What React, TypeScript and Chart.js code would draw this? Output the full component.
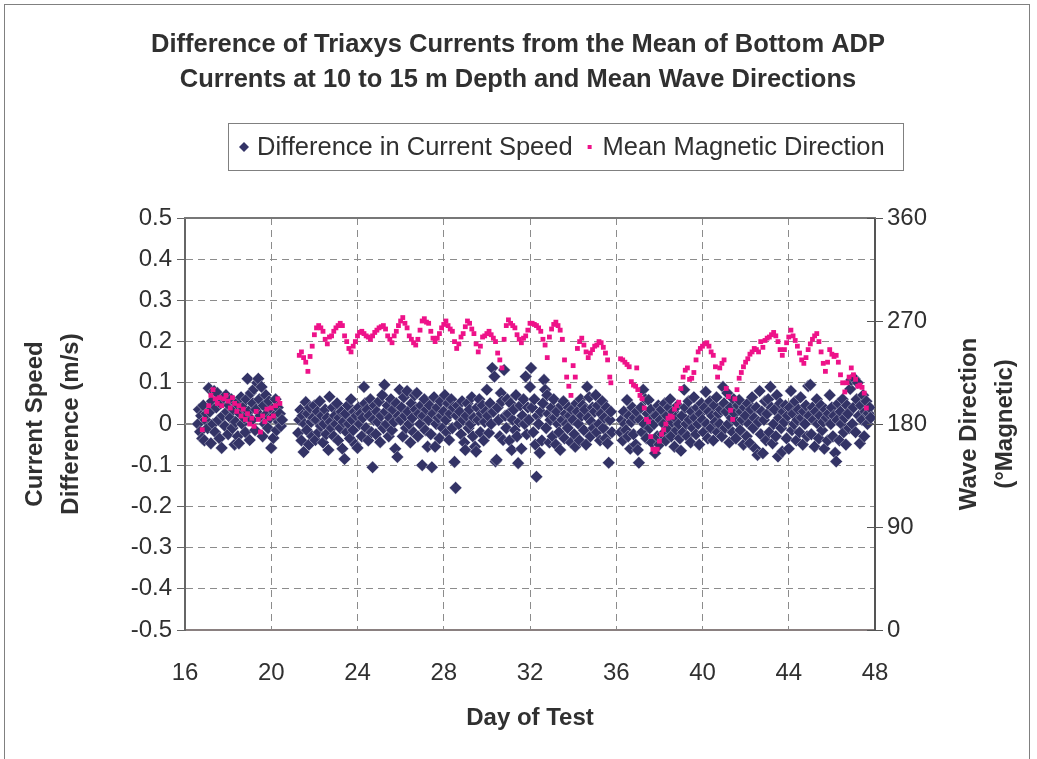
import React, { useEffect, useRef } from "react";
import { Chart, registerables } from "chart.js";

Chart.register(...registerables);

const FONT = "'Liberation Sans', Arial, Helvetica, sans-serif";
const TEXT = "#303030";
const NAVY = "#333366";
const PINK = "#EE1289";

const titleLines = [
  "Difference of Triaxys Currents from the Mean of Bottom ADP",
  "Currents at 10 to 15 m Depth and Mean Wave Directions",
];
const seriesNames = ["Difference in Current Speed", "Mean Magnetic Direction"];
const xTitle = "Day of Test";
const yTitleLeft = ["Current Speed", "Difference (m/s)"];
const yTitleRight = ["Wave Direction", "(°Magnetic)"];

// Day of test for each current-speed difference sample
const speedDays = [
  16.6,16.65,16.7,16.75,16.8,16.85,16.9,16.95,
  17,17.05,17.1,17.15,17.2,17.25,17.3,17.35,17.4,17.45,17.5,17.55,17.6,17.65,17.7,17.75,17.8,17.85,17.9,17.95,
  18,18.05,18.1,18.15,18.2,18.25,18.3,18.35,18.4,18.45,18.5,18.55,18.6,18.65,18.7,18.75,18.8,18.85,18.9,18.95,
  19,19.05,19.1,19.15,19.2,19.25,19.3,19.35,19.4,19.45,19.5,19.55,19.6,19.65,19.7,19.75,19.8,19.85,19.9,19.95,
  20,20.05,20.1,20.15,20.2,20.25,20.3,20.35,20.4,20.45,20.5,
  21.25,21.3,21.35,21.4,21.45,21.5,21.55,21.6,21.65,21.7,21.75,21.8,21.85,21.9,21.95,
  22,22.05,22.1,22.15,22.2,22.25,22.3,22.35,22.4,22.45,22.5,22.55,22.6,22.65,22.7,22.75,22.8,22.85,22.9,22.95,
  23,23.05,23.1,23.15,23.2,23.25,23.3,23.35,23.4,23.45,23.5,23.55,23.6,23.65,23.7,23.75,23.8,23.85,23.9,23.95,
  24,24.05,24.1,24.15,24.2,24.25,24.3,24.35,24.4,24.45,24.5,24.55,24.6,24.65,24.7,24.75,24.8,24.85,24.9,24.95,
  25,25.05,25.1,25.15,25.2,25.25,25.3,25.35,25.4,25.45,25.5,25.55,25.6,25.65,25.7,25.75,25.8,25.85,25.9,25.95,
  26,26.05,26.1,26.15,26.2,26.25,26.3,26.35,26.4,26.45,26.5,26.55,26.6,26.65,26.7,26.75,26.8,26.85,26.9,26.95,
  27,27.05,27.1,27.15,27.2,27.25,27.3,27.35,27.4,27.45,27.5,27.55,27.6,27.65,27.7,27.75,27.8,27.85,27.9,27.95,
  28,28.05,28.1,28.15,28.2,28.25,28.3,28.35,28.4,28.45,28.5,28.55,28.6,28.65,28.7,28.75,28.8,28.85,28.9,28.95,
  29,29.05,29.1,29.15,29.2,29.25,29.3,29.35,29.4,29.45,29.5,29.55,29.6,29.65,29.7,29.75,29.8,29.85,29.9,29.95,
  30,30.05,30.1,30.15,30.2,30.25,30.3,30.35,30.4,30.45,30.5,30.55,30.6,30.65,30.7,30.75,30.8,30.85,30.9,30.95,
  31,31.05,31.1,31.15,31.2,31.25,31.3,31.35,31.4,31.45,31.5,31.55,31.6,31.65,31.7,31.75,31.8,31.85,31.9,31.95,
  32,32.05,32.1,32.15,32.2,32.25,32.3,32.35,32.4,32.45,32.5,32.55,32.6,32.65,32.7,32.75,32.8,32.85,32.9,32.95,
  33,33.05,33.1,33.15,33.2,33.25,33.3,33.35,33.4,33.45,33.5,33.55,33.6,33.65,33.7,33.75,33.8,33.85,33.9,33.95,
  34,34.05,34.1,34.15,34.2,34.25,34.3,34.35,34.4,34.45,34.5,34.55,34.6,34.65,34.7,34.75,34.8,34.85,34.9,34.95,
  35,35.05,35.1,35.15,35.2,35.25,35.3,35.35,35.4,35.45,35.5,35.55,35.6,35.65,35.7,35.75,35.8,
  36.2,36.25,36.3,36.35,36.4,36.45,36.5,36.55,36.6,36.65,36.7,36.75,36.8,36.85,36.9,36.95,
  37,37.05,37.1,37.15,37.2,37.25,37.3,37.35,37.4,37.45,37.5,37.55,37.6,37.65,37.7,37.75,37.8,37.85,37.9,37.95,
  38,38.05,38.1,38.15,38.2,38.25,38.3,38.35,38.4,38.45,38.5,38.55,38.6,38.65,38.7,38.75,38.8,38.85,38.9,38.95,
  39,39.05,39.1,39.15,39.2,39.25,39.3,39.35,39.4,39.45,39.5,39.55,39.6,39.65,39.7,39.75,39.8,39.85,39.9,39.95,
  40,40.05,40.1,40.15,40.2,40.25,40.3,40.35,40.4,40.45,40.5,40.55,40.6,40.65,40.7,40.75,40.8,40.85,40.9,40.95,
  41,41.05,41.1,41.15,41.2,41.25,41.3,41.35,41.4,41.45,41.5,41.55,41.6,41.65,41.7,41.75,41.8,41.85,41.9,41.95,
  42,42.05,42.1,42.15,42.2,42.25,42.3,42.35,42.4,42.45,42.5,42.55,42.6,42.65,42.7,42.75,42.8,42.85,42.9,42.95,
  43,43.05,43.1,43.15,43.2,43.25,43.3,43.35,43.4,43.45,43.5,43.55,43.6,43.65,43.7,43.75,43.8,43.85,43.9,43.95,
  44,44.05,44.1,44.15,44.2,44.25,44.3,44.35,44.4,44.45,44.5,44.55,44.6,44.65,44.7,44.75,44.8,44.85,44.9,44.95,
  45,45.05,45.1,45.15,45.2,45.25,45.3,45.35,45.4,45.45,45.5,45.55,45.6,45.65,45.7,45.75,45.8,45.85,45.9,45.95,
  46,46.05,46.1,46.15,46.2,46.25,46.3,46.35,46.4,46.45,46.5,46.55,46.6,46.65,46.7,46.75,46.8,46.85,46.9,46.95,
  47,47.05,47.1,47.15,47.2,47.25,47.3,47.35,47.4,47.45,47.5,47.55,47.6,47.65,47.7,47.75,47.8,
];

// Difference in current speed (m/s)
const speedDiff = [
  0.000,0.035,-0.019,0.020,-0.035,0.045,-0.040,0.010,
  0.025,-0.010,0.087,0.030,-0.047,0.055,0.000,0.080,-0.020,0.040,0.075,0.010,-0.035,0.050,-0.058,0.020,0.065,-0.005,0.070,0.030,
  -0.025,0.045,0.015,0.060,-0.010,0.035,-0.050,0.005,0.050,-0.030,-0.047,0.025,0.065,0.000,0.040,0.015,-0.020,0.060,0.110,0.030,
  -0.039,0.075,0.010,0.050,0.085,-0.015,0.035,0.100,0.110,0.060,0.020,0.090,-0.030,0.045,0.000,0.070,0.025,-0.010,0.055,0.015,
  -0.058,0.035,-0.034,0.020,0.060,-0.015,0.040,0.005,0.025,-0.005,0.010,
  -0.022,0.010,0.034,-0.040,0.020,-0.068,0.000,0.053,-0.015,0.025,-0.050,0.040,0.005,-0.030,0.015,
  0.045,-0.039,0.010,0.030,-0.020,0.055,-0.005,0.020,-0.045,0.000,0.035,-0.025,0.015,-0.063,0.066,0.005,-0.010,0.040,-0.030,0.020,
  0.000,0.050,-0.040,0.015,-0.010,0.030,-0.060,0.005,-0.085,0.025,-0.020,0.045,0.000,-0.035,0.060,0.010,-0.015,0.030,-0.050,0.020,
  -0.058,0.040,0.000,0.025,-0.030,0.015,0.090,0.050,-0.010,0.035,-0.040,0.020,0.060,-0.020,-0.105,0.010,0.045,-0.025,0.030,0.005,
  0.055,-0.044,0.020,0.070,-0.010,0.095,0.030,0.000,0.045,-0.030,0.015,0.060,-0.015,0.035,0.005,-0.060,0.050,-0.080,0.020,0.083,
  0.010,0.040,-0.030,0.065,0.020,-0.010,0.080,0.030,0.000,-0.045,0.050,0.015,-0.020,0.070,0.035,0.075,-0.030,0.025,0.000,0.045,
  -0.100,0.020,0.060,-0.015,0.035,-0.055,0.010,0.045,-0.025,-0.105,0.025,0.065,-0.055,0.000,0.040,0.015,-0.035,0.055,0.020,-0.010,
  0.030,0.070,0.010,-0.020,0.050,-0.039,0.025,0.060,-0.010,0.040,-0.092,-0.155,0.020,0.045,0.000,0.030,-0.025,0.055,0.010,-0.045,
  -0.063,0.020,0.050,-0.010,0.035,0.000,0.065,-0.030,0.015,-0.055,-0.067,0.040,0.010,0.060,-0.020,0.025,0.045,-0.040,0.005,0.030,
  0.083,0.020,-0.022,0.050,0.000,0.136,0.030,0.115,-0.091,-0.087,0.040,0.010,-0.030,0.075,0.055,-0.039,0.131,0.020,-0.010,0.060,
  0.025,-0.040,0.050,-0.063,0.010,0.035,-0.015,0.070,-0.030,-0.095,0.005,0.045,-0.060,0.020,0.060,0.000,0.115,-0.025,0.040,0.010,
  0.090,0.136,0.040,-0.020,0.060,-0.050,-0.128,0.020,0.000,-0.070,0.030,-0.040,0.050,0.107,0.083,-0.010,0.070,0.025,-0.045,0.010,
  0.040,-0.030,0.060,0.015,-0.050,0.030,0.000,-0.020,-0.063,0.045,0.010,0.055,-0.035,0.025,0.000,-0.010,0.040,0.020,-0.045,0.035,
  0.010,-0.025,-0.055,0.050,0.030,0.000,-0.040,0.060,0.020,0.045,-0.015,0.035,-0.050,0.090,0.015,0.065,-0.030,0.005,0.040,-0.010,
  0.030,0.070,-0.020,0.045,0.000,-0.040,0.025,0.055,-0.010,0.015,-0.035,0.040,-0.047,-0.094,0.010,0.030,-0.020,
  -0.020,0.010,-0.040,0.030,0.000,-0.015,0.058,-0.030,0.020,-0.060,0.005,0.040,-0.025,0.015,-0.050,0.030,
  -0.063,-0.094,0.010,0.040,-0.020,0.083,0.000,0.060,-0.035,0.025,0.058,-0.010,0.035,-0.045,0.015,0.000,-0.071,0.020,-0.030,0.045,
  -0.050,0.010,0.035,-0.025,0.000,0.050,-0.040,0.020,-0.010,0.040,0.060,-0.030,0.005,0.030,-0.055,0.015,-0.015,0.045,0.000,-0.035,
  -0.065,0.020,-0.020,0.083,0.040,0.000,-0.030,0.055,0.010,-0.045,0.030,-0.010,0.065,0.015,-0.025,0.040,0.000,-0.050,0.025,0.050,
  0.010,-0.020,0.040,0.078,0.000,-0.035,0.030,0.055,-0.010,0.020,-0.040,0.045,0.005,0.065,-0.020,0.025,0.000,0.035,-0.030,0.090,
  0.050,-0.010,0.030,0.075,0.000,-0.045,0.040,0.015,-0.020,0.060,0.025,-0.035,0.005,0.045,0.058,-0.015,0.030,0.010,-0.050,0.040,
  0.020,-0.030,0.050,0.000,-0.047,0.035,0.065,-0.010,0.015,-0.060,0.040,-0.075,0.005,0.080,-0.025,0.030,-0.071,0.010,0.055,-0.040,
  0.025,0.060,-0.020,0.090,0.040,-0.047,0.000,0.035,-0.030,0.070,-0.079,0.015,0.050,-0.010,-0.067,0.030,0.005,0.045,-0.035,0.020,
  -0.060,0.040,0.080,-0.015,0.025,0.000,0.055,-0.040,0.010,0.035,-0.020,0.065,0.015,-0.050,0.030,0.000,0.045,-0.030,0.092,0.020,
  0.095,-0.025,0.040,0.010,-0.055,0.030,0.060,0.000,-0.035,0.020,0.045,-0.015,0.005,-0.060,0.035,0.015,-0.040,0.025,0.070,0.000,
  0.040,-0.030,0.020,-0.070,-0.091,0.010,0.050,-0.040,0.030,0.000,0.060,-0.020,0.015,-0.050,0.045,0.025,-0.010,0.085,0.107,0.000,
  0.040,0.110,-0.020,0.060,0.100,0.020,-0.047,0.045,0.010,0.070,-0.030,0.030,0.055,0.000,0.026,0.040,0.015,
];

// Day of test for each mean wave direction sample
const dirDays = [
  16.8,16.9,17,17.1,17.2,17.3,17.4,17.5,17.6,17.7,17.8,17.9,18,18.1,18.2,18.3,18.4,18.5,18.6,18.7,18.8,18.9,
  19,19.1,19.2,19.3,19.4,19.5,19.6,19.7,19.8,19.9,20,20.1,20.2,20.3,20.4,
  21.3,21.4,21.5,21.6,21.7,21.8,21.9,
  22,22.1,22.2,22.3,22.4,22.5,22.6,22.7,22.8,22.9,
  23,23.1,23.2,23.3,23.4,23.5,23.6,23.7,23.8,23.9,
  24,24.1,24.2,24.3,24.4,24.5,24.6,24.7,24.8,24.9,
  25,25.1,25.2,25.3,25.4,25.5,25.6,25.7,25.8,25.9,
  26,26.1,26.2,26.3,26.4,26.5,26.6,26.7,26.8,26.9,
  27,27.1,27.2,27.3,27.4,27.5,27.6,27.7,27.8,27.9,
  28,28.1,28.2,28.3,28.4,28.5,28.6,28.7,28.8,28.9,
  29,29.1,29.2,29.3,29.4,29.5,29.6,29.7,29.8,29.9,
  30,30.1,30.2,30.3,30.4,30.5,30.6,30.7,30.8,30.9,
  31,31.1,31.2,31.3,31.4,31.5,31.6,31.7,31.8,31.9,
  32,32.1,32.2,32.3,32.4,32.5,32.6,32.7,32.8,32.9,
  33,33.1,33.2,33.3,33.4,33.5,33.6,33.7,33.8,33.9,
  34,34.1,34.2,34.3,34.4,34.5,34.6,34.7,34.8,34.9,
  35,35.1,35.2,35.3,35.4,35.5,35.6,35.7,35.75,
  36.2,36.3,36.4,36.5,36.6,36.7,36.8,36.9,36.95,
  37,37.1,37.2,37.3,37.4,37.5,37.6,37.7,37.8,37.9,
  38,38.1,38.2,38.3,38.4,38.5,38.6,38.7,38.8,38.9,
  39,39.1,39.2,39.3,39.4,39.5,39.6,39.7,39.8,39.9,
  40,40.1,40.2,40.3,40.4,40.5,40.6,40.7,40.8,40.9,
  41,41.1,41.2,41.3,41.4,41.5,41.6,41.7,41.8,41.9,
  42,42.1,42.2,42.3,42.4,42.5,42.6,42.7,42.8,42.9,
  43,43.1,43.2,43.3,43.4,43.5,43.6,43.7,43.8,43.9,
  44,44.1,44.2,44.3,44.4,44.5,44.6,44.7,44.8,44.9,
  45,45.1,45.2,45.3,45.4,45.5,45.6,45.7,45.8,45.9,
  46,46.1,46.2,46.3,46.4,46.5,46.6,46.7,46.8,46.9,
  47,47.1,47.2,47.3,47.4,47.5,47.6,
];

// Mean magnetic wave direction (degrees)
const dirDeg = [
  175,184,191,196,205,210,202,198,203,196,202,205,200,194,203,198,191,196,187,193,184,189,
  180,185,178,191,184,173,187,182,193,185,194,187,196,202,198,
  240,243,238,234,226,239,248,
  258,264,266,264,261,254,250,256,257,261,
  264,266,268,266,257,252,246,243,248,252,
  257,260,261,259,257,256,254,257,260,262,
  264,265,266,263,257,254,251,257,261,266,
  270,273,268,264,257,254,251,249,254,262,
  270,272,269,268,261,255,252,255,259,264,
  267,270,266,263,261,252,246,250,256,259,
  265,270,268,263,259,250,243,248,256,257,
  259,261,258,255,252,242,236,229,254,266,
  271,268,266,264,258,254,251,255,257,262,
  268,268,267,266,264,261,254,249,238,256,
  263,267,269,266,262,254,236,221,213,205,
  231,221,246,252,255,249,243,238,242,245,
  248,249,252,251,247,242,236,221,216,
  237,236,234,232,230,217,214,213,229,
  210,205,202,194,184,182,169,158,156,158,
  165,171,175,180,185,187,186,193,196,199,
  211,221,227,229,219,220,225,236,243,246,
  248,250,251,248,243,240,230,221,229,233,
  236,211,204,192,184,202,210,220,225,230,
  234,237,241,243,246,245,243,252,247,253,
  255,256,258,260,257,252,245,240,245,251,
  256,262,257,253,248,242,236,233,238,245,
  250,254,257,259,252,243,233,226,234,245,
  241,239,240,234,223,216,208,216,221,229,
  223,219,213,214,212,207,194,
];

function vText(ctx: CanvasRenderingContext2D, text: string, x: number, y: number) {
  ctx.save();
  ctx.translate(x, y);
  ctx.rotate(-Math.PI / 2);
  ctx.fillText(text, 0, 0);
  ctx.restore();
}

const decor = {
  id: "decor",
  beforeDatasetsDraw(chart: any) {
    const { ctx, chartArea, scales } = chart;
    const y0 = scales.y.getPixelForValue(0);
    ctx.save();
    ctx.strokeStyle = "#8c8c8c";
    ctx.lineWidth = 2;
    ctx.beginPath();
    ctx.moveTo(chartArea.left, y0);
    ctx.lineTo(chartArea.right, y0);
    ctx.stroke();
    ctx.restore();
  },
  afterDraw(chart: any) {
    const { ctx, chartArea, scales } = chart;
    ctx.save();
    // plot-area top border
    ctx.strokeStyle = "#777777";
    ctx.lineWidth = 2;
    ctx.beginPath();
    ctx.moveTo(chartArea.left - 1, chartArea.top);
    ctx.lineTo(chartArea.right + 1, chartArea.top);
    ctx.stroke();
    // inner half of right-axis tick marks
    ctx.strokeStyle = "#555555";
    ctx.lineWidth = 1;
    for (const t of scales.y1.ticks) {
      const py = Math.round(scales.y1.getPixelForValue(t.value)) + 0.5;
      ctx.beginPath();
      ctx.moveTo(chartArea.right - 8, py);
      ctx.lineTo(chartArea.right, py);
      ctx.stroke();
    }
    // outer frame
    ctx.strokeStyle = "#808080";
    ctx.lineWidth = 1;
    ctx.strokeRect(4.5, 4.5, 1025, 800);

    // title
    ctx.fillStyle = TEXT;
    ctx.textAlign = "center";
    ctx.textBaseline = "middle";
    ctx.font = `bold 25.5px ${FONT}`;
    ctx.fillText(titleLines[0], 518, 45);
    ctx.fillText(titleLines[1], 518, 80);

    // legend
    ctx.strokeStyle = "#808080";
    ctx.lineWidth = 1;
    ctx.strokeRect(228.5, 123.5, 675, 47);
    ctx.font = `25.5px ${FONT}`;
    ctx.textAlign = "left";
    const w1 = ctx.measureText(seriesNames[0]).width;
    let lx = 239;
    const ly = 147;
    ctx.fillStyle = NAVY;
    ctx.beginPath();
    ctx.moveTo(lx + 5, ly - 5);
    ctx.lineTo(lx + 10, ly);
    ctx.lineTo(lx + 5, ly + 5);
    ctx.lineTo(lx, ly);
    ctx.closePath();
    ctx.fill();
    lx += 18;
    ctx.fillStyle = TEXT;
    ctx.fillText(seriesNames[0], lx, ly + 1);
    lx += w1 + 15;
    ctx.fillStyle = PINK;
    ctx.fillRect(lx, ly - 2, 4, 4);
    lx += 15;
    ctx.fillStyle = TEXT;
    ctx.fillText(seriesNames[1], lx, ly + 1);

    // axis titles
    ctx.textAlign = "center";
    ctx.font = `bold 24px ${FONT}`;
    const cy = (chartArea.top + chartArea.bottom) / 2;
    vText(ctx, yTitleLeft[0], 35, cy);
    vText(ctx, yTitleLeft[1], 71, cy);
    vText(ctx, yTitleRight[0], 969, cy);
    vText(ctx, yTitleRight[1], 1005, cy);
    ctx.fillText(xTitle, (chartArea.left + chartArea.right) / 2, 718);
    ctx.restore();
  },
};

export default function App() {
  const ref = useRef<HTMLCanvasElement | null>(null);

  useEffect(() => {
    const canvas = ref.current;
    if (!canvas) return;
    const speedPoints = speedDays.map((d, i) => ({ x: d, y: speedDiff[i] }));
    const dirPoints = dirDays.map((d, i) => ({ x: d, y: dirDeg[i] }));
    const tickFont = { family: FONT, size: 24 };

    const chart = new Chart(canvas, {
      type: "scatter",
      data: {
        datasets: [
          {
            label: seriesNames[0],
            data: speedPoints,
            yAxisID: "y",
            pointStyle: "rectRot",
            pointRadius: 6.3,
            backgroundColor: NAVY,
            borderColor: "rgba(255,255,255,0.6)",
            borderWidth: 0.6,
            order: 2,
          },
          {
            label: seriesNames[1],
            data: dirPoints,
            yAxisID: "y1",
            pointStyle: "rect",
            pointRadius: 3.4,
            backgroundColor: PINK,
            borderWidth: 0,
            order: 1,
          },
        ],
      },
      options: {
        responsive: false,
        animation: false,
        devicePixelRatio: 1,
        events: [],
        layout: { padding: { top: 218, left: 0, right: 0, bottom: 0 } },
        plugins: {
          legend: { display: false },
          title: { display: false },
          tooltip: { enabled: false },
        },
        scales: {
          x: {
            type: "linear",
            min: 16,
            max: 48,
            ticks: { stepSize: 4, font: tickFont, color: TEXT, padding: 29, callback: (v: any) => String(v) },
            grid: { color: "#8c8c8c", lineWidth: 1, drawTicks: false },
            border: { display: true, color: "#8a8080", width: 2, dash: [7, 5] },
            afterFit: (s: any) => { s.height = 129; },
          },
          y: {
            position: "left",
            min: -0.5,
            max: 0.5,
            ticks: {
              stepSize: 0.1,
              font: tickFont,
              color: TEXT,
              padding: 5,
              callback: (v: any) => {
                const n = Math.round(Number(v) * 10) / 10;
                return n === 0 ? "0" : String(n);
              },
            },
            grid: {
              color: (c: any) => (c.tick && Math.abs(c.tick.value) < 1e-9 ? "rgba(0,0,0,0)" : "#8c8c8c"),
              lineWidth: 1,
              tickLength: 8,
              tickColor: "#666666",
              tickWidth: 1,
            },
            border: { display: true, color: "#666666", width: 2, dash: [7, 5] },
            afterFit: (s: any) => { s.width = 185; },
          },
          y1: {
            position: "right",
            min: 0,
            max: 360,
            ticks: { stepSize: 90, font: tickFont, color: TEXT, padding: 4 },
            grid: { drawOnChartArea: false, tickLength: 8, tickColor: "#555555", tickWidth: 1 },
            border: { display: true, color: "#555555", width: 2 },
            afterFit: (s: any) => { s.width = 162; },
          },
        },
      },
      plugins: [decor],
    } as any);

    return () => chart.destroy();
  }, []);

  return (
    <div style={{ position: "absolute", left: 0, top: 0, width: 1037, height: 759, background: "#ffffff" }}>
      <canvas ref={ref} width={1037} height={759} style={{ display: "block" }} />
    </div>
  );
}
